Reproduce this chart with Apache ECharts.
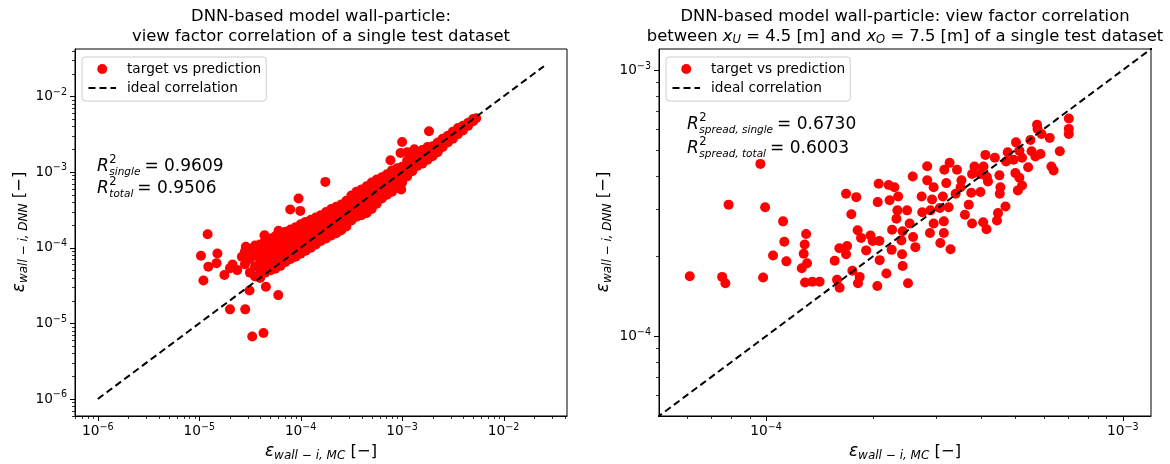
<!DOCTYPE html>
<html>
<head>
<meta charset="utf-8">
<script src="https://cdn.jsdelivr.net/npm/echarts@6/dist/echarts.min.js"></script>
<style>
  html, body { margin: 0; padding: 0; background: #ffffff; }
  #chart { width: 1170px; height: 464px; }
</style>
</head>
<body>
<div id="chart"></div>
<script>
// ---------------- data ----------------
// Single test dataset: dense band of (MC target, DNN prediction) pairs, grouped by MC value.
const singleBandColumns = [
  [2.82e-5, [6.03e-5, 8.91e-5]],
  [3.16e-5, [4.68e-5, 7.08e-5, 9.55e-5]],
  [3.55e-5, [4.17e-5, 5.62e-5, 7.94e-5, 1.07e-4]],
  [3.98e-5, [3.98e-5, 5.25e-5, 6.76e-5, 8.91e-5, 1.10e-4]],
  [4.47e-5, [4.68e-5, 6.03e-5, 7.59e-5, 1.00e-4, 1.26e-4]],
  [5.01e-5, [5.01e-5, 6.31e-5, 8.32e-5, 1.05e-4, 1.32e-4]],
  [5.62e-5, [5.25e-5, 6.76e-5, 8.71e-5, 1.12e-4, 1.41e-4]],
  [6.31e-5, [5.75e-5, 7.41e-5, 9.55e-5, 1.20e-4, 1.51e-4]],
  [7.08e-5, [6.46e-5, 8.13e-5, 1.05e-4, 1.32e-4, 1.62e-4]],
  [7.94e-5, [7.08e-5, 8.91e-5, 1.12e-4, 1.41e-4, 1.74e-4]],
  [8.91e-5, [7.59e-5, 9.55e-5, 1.20e-4, 1.51e-4, 1.86e-4]],
  [1.00e-4, [8.32e-5, 1.05e-4, 1.32e-4, 1.66e-4, 2.04e-4]],
  [1.12e-4, [9.12e-5, 1.15e-4, 1.45e-4, 1.82e-4, 2.19e-4]],
  [1.26e-4, [1.00e-4, 1.26e-4, 1.58e-4, 1.95e-4, 2.34e-4]],
  [1.41e-4, [1.10e-4, 1.38e-4, 1.74e-4, 2.14e-4, 2.51e-4]],
  [1.58e-4, [1.23e-4, 1.51e-4, 1.91e-4, 2.34e-4, 2.69e-4]],
  [1.78e-4, [1.32e-4, 1.66e-4, 2.09e-4, 2.57e-4, 2.95e-4]],
  [2.00e-4, [1.45e-4, 1.82e-4, 2.29e-4, 2.82e-4, 3.24e-4]],
  [2.24e-4, [1.55e-4, 1.95e-4, 2.45e-4, 3.02e-4, 3.47e-4]],
  [2.51e-4, [1.70e-4, 2.14e-4, 2.69e-4, 3.24e-4, 3.72e-4]],
  [2.82e-4, [1.91e-4, 2.40e-4, 3.02e-4, 3.63e-4, 4.17e-4]],
  [3.16e-4, [2.29e-4, 2.82e-4, 3.47e-4, 4.17e-4, 4.90e-4]],
  [3.55e-4, [2.57e-4, 3.16e-4, 3.89e-4, 4.68e-4, 5.50e-4]],
  [3.98e-4, [2.69e-4, 3.39e-4, 4.17e-4, 5.01e-4, 5.89e-4]],
  [4.47e-4, [2.88e-4, 3.63e-4, 4.57e-4, 5.50e-4, 6.46e-4]],
  [5.01e-4, [3.24e-4, 4.07e-4, 5.01e-4, 6.03e-4, 7.24e-4]],
  [5.62e-4, [3.80e-4, 4.57e-4, 5.62e-4, 6.76e-4, 7.94e-4]],
  [6.31e-4, [4.47e-4, 5.37e-4, 6.46e-4, 7.59e-4, 8.51e-4]],
  [7.08e-4, [5.01e-4, 6.03e-4, 7.24e-4, 8.51e-4, 9.33e-4]],
  [7.94e-4, [5.50e-4, 6.61e-4, 7.94e-4, 9.33e-4, 1.05e-3]],
  [8.91e-4, [6.17e-4, 7.41e-4, 8.91e-4, 1.02e-3, 1.12e-3]],
  [1.00e-3, [7.24e-4, 8.71e-4, 1.02e-3, 1.17e-3]],
  [1.12e-3, [8.71e-4, 1.02e-3, 1.23e-3, 1.41e-3, 1.82e-3]],
  [1.26e-3, [1.02e-3, 1.20e-3, 1.45e-3, 1.70e-3]],
  [1.32e-3, [2.00e-3]],
  [1.41e-3, [1.20e-3, 1.41e-3, 1.66e-3, 1.82e-3]],
  [1.58e-3, [1.29e-3, 1.51e-3, 1.78e-3, 1.95e-3]],
  [1.78e-3, [1.45e-3, 1.70e-3, 2.00e-3, 2.14e-3]],
  [2.00e-3, [1.62e-3, 1.91e-3, 2.19e-3]],
  [2.24e-3, [1.82e-3, 2.14e-3, 2.45e-3]],
  [2.51e-3, [2.14e-3, 2.45e-3, 2.75e-3]],
  [2.82e-3, [2.45e-3, 2.75e-3, 3.02e-3]],
  [3.16e-3, [2.75e-3, 3.09e-3, 3.39e-3]],
  [3.55e-3, [3.16e-3, 3.55e-3, 3.80e-3]],
  [3.98e-3, [3.55e-3, 4.07e-3]],
  [4.47e-3, [4.07e-3, 4.47e-3]],
  [5.01e-3, [4.68e-3, 5.01e-3]],
  [5.37e-3, [5.13e-3]]
];

// Single test dataset: scattered points away from the band.
const singleOutliers = [
  [1.04e-5, 7.80e-5], [1.21e-5, 1.50e-4], [1.51e-5, 8.38e-5], [1.23e-5, 5.61e-5],
  [1.48e-5, 6.24e-5], [1.10e-5, 3.69e-5], [1.77e-5, 4.34e-5], [2.13e-5, 5.97e-5],
  [2.01e-5, 5.36e-5], [2.37e-5, 5.05e-5], [2.63e-5, 7.57e-5], [2.88e-5, 1.03e-4],
  [2.01e-5, 1.53e-5], [2.84e-5, 1.53e-5], [3.13e-5, 2.72e-5], [4.54e-5, 3.05e-5],
  [6.01e-5, 2.36e-5], [3.33e-5, 6.68e-6], [4.30e-5, 7.43e-6], [4.40e-5, 1.46e-4],
  [6.05e-5, 1.67e-4], [7.89e-5, 3.19e-4], [9.53e-5, 4.47e-4], [9.91e-5, 3.06e-4],
  [1.75e-4, 7.40e-4], [7.67e-4, 1.43e-3], [1.00e-3, 2.49e-3], [1.84e-3, 3.45e-3],
  [9.64e-4, 1.78e-3], [9.79e-4, 5.86e-4]
];

// Spread region between x_U = 4.5 m and x_O = 7.5 m: (MC target, DNN prediction).
const spreadPoints = [
  [6.11e-5, 1.68e-4], [7.53e-5, 1.67e-4], [7.69e-5, 1.58e-4], [9.81e-5, 1.66e-4],
  [7.85e-5, 3.12e-4], [9.64e-5, 4.44e-4], [9.94e-5, 3.05e-4], [1.116e-4, 2.70e-4],
  [1.125e-4, 2.265e-4], [1.046e-4, 2.01e-4], [1.14e-4, 1.91e-4], [1.295e-4, 2.42e-4],
  [1.283e-4, 2.21e-4], [1.275e-4, 2.04e-4], [1.303e-4, 1.88e-4], [1.259e-4, 1.80e-4],
  [1.286e-4, 1.59e-4], [1.348e-4, 1.60e-4], [1.413e-4, 1.60e-4], [1.557e-4, 1.92e-4],
  [1.581e-4, 1.63e-4], [1.608e-4, 1.52e-4], [1.605e-4, 2.14e-4], [1.687e-4, 2.18e-4],
  [1.676e-4, 2.03e-4], [1.676e-4, 3.43e-4], [1.79e-4, 3.33e-4], [1.734e-4, 2.87e-4],
  [1.806e-4, 2.50e-4], [1.846e-4, 2.34e-4], [1.746e-4, 1.76e-4], [1.83e-4, 1.67e-4],
  [1.81e-4, 1.58e-4], [1.908e-4, 2.10e-4], [1.962e-4, 2.39e-4], [1.99e-4, 2.28e-4],
  [2.078e-4, 2.28e-4], [2.082e-4, 1.93e-4], [2.051e-4, 1.544e-4], [2.175e-4, 1.72e-4],
  [2.069e-4, 3.74e-4], [2.207e-4, 3.70e-4], [2.29e-4, 3.63e-4], [2.346e-4, 3.35e-4],
  [2.22e-4, 3.24e-4], [2.056e-4, 3.19e-4], [2.335e-4, 2.97e-4], [2.32e-4, 2.76e-4],
  [2.256e-4, 2.51e-4], [2.25e-4, 2.11e-4], [2.415e-4, 2.48e-4], [2.395e-4, 2.29e-4],
  [2.406e-4, 2.03e-4], [2.415e-4, 1.835e-4], [2.50e-4, 1.58e-4], [2.485e-4, 2.97e-4],
  [2.527e-4, 2.65e-4], [2.583e-4, 2.36e-4], [2.622e-4, 2.16e-4], [2.577e-4, 3.98e-4],
  [7.06e-4, 6.58e-4], [7.06e-4, 6.01e-4], [7.06e-4, 5.75e-4], [5.75e-4, 6.23e-4],
  [5.77e-4, 6.01e-4], [5.92e-4, 5.75e-4], [6.24e-4, 5.56e-4], [6.66e-4, 4.95e-4],
  [5.51e-4, 5.46e-4], [5.02e-4, 5.35e-4], [5.55e-4, 4.95e-4], [5.69e-4, 4.73e-4],
  [5.88e-4, 4.84e-4], [5.13e-4, 4.98e-4], [4.76e-4, 4.91e-4], [5.22e-4, 4.68e-4],
  [4.94e-4, 4.60e-4], [5.43e-4, 4.31e-4], [6.31e-4, 4.34e-4], [6.40e-4, 4.19e-4],
  [4.12e-4, 4.80e-4], [4.38e-4, 4.68e-4], [4.71e-4, 4.53e-4], [3.84e-4, 4.34e-4],
  [4.07e-4, 4.34e-4], [3.99e-4, 4.07e-4], [3.27e-4, 4.48e-4], [3.43e-4, 4.22e-4],
  [3.16e-4, 4.22e-4], [2.83e-4, 4.35e-4], [3.78e-4, 4.07e-4], [4.16e-4, 3.96e-4],
  [4.51e-4, 4.02e-4], [5.00e-4, 4.10e-4], [5.13e-4, 3.94e-4], [5.22e-4, 3.68e-4],
  [5.08e-4, 3.53e-4], [4.54e-4, 3.63e-4], [4.52e-4, 3.43e-4], [4.19e-4, 3.81e-4],
  [3.99e-4, 3.48e-4], [3.76e-4, 3.46e-4], [3.51e-4, 3.63e-4], [3.53e-4, 3.85e-4],
  [3.20e-4, 3.76e-4], [2.95e-4, 3.63e-4], [2.83e-4, 3.85e-4], [3.40e-4, 3.43e-4],
  [3.13e-4, 3.35e-4], [2.92e-4, 3.26e-4], [2.73e-4, 3.35e-4], [3.25e-4, 3.05e-4],
  [3.07e-4, 3.03e-4], [2.89e-4, 2.97e-4], [2.74e-4, 2.92e-4], [3.70e-4, 3.12e-4],
  [3.61e-4, 2.86e-4], [3.78e-4, 2.65e-4], [4.06e-4, 2.68e-4], [4.15e-4, 2.52e-4],
  [4.47e-4, 2.90e-4], [4.69e-4, 3.07e-4], [4.44e-4, 2.72e-4], [3.15e-4, 2.70e-4],
  [2.95e-4, 2.65e-4], [3.15e-4, 2.44e-4], [2.88e-4, 2.44e-4], [3.08e-4, 2.24e-4],
  [3.29e-4, 2.12e-4]
];

// Ideal correlation y = x, given by its end points.
const singleIdealEnds = [1e-6, 2.5e-2];
const spreadIdealEnds = [1e-5, 1e-2];

// Axis ranges (same for both axes of each panel).
const singleRange = [5.96e-7, 4.22e-2];
const spreadRange = [5.01e-5, 1.20e-3];

// Tick values.
const singleMajorTicks = [1e-6, 1e-5, 1e-4, 1e-3, 1e-2];
const spreadMajorTicks = [1e-4, 1e-3];
const minorMultipliers = [2, 3, 4, 5, 6, 7, 8, 9];
const minorDecades = [1e-7, 1e-6, 1e-5, 1e-4, 1e-3, 1e-2];

// Coefficients of determination shown in each panel.
const singleR2 = { single: '0.9609', total: '0.9506' };
const spreadR2 = { single: '0.6730', total: '0.6003' };

// Axis titles.
const xTitle = '{e|\u03b5}{s|wall \u2212 i, MC}{n| [\u2212]}';
const yTitle = '{e|\u03b5}{s|wall \u2212 i, DNN}{n| [\u2212]}';

// ---------------- helpers ----------------
const FONT = '"DejaVu Sans", sans-serif';

const singleData = singleOutliers.slice();
singleBandColumns.forEach(([mc, preds]) => preds.forEach(p => singleData.push([mc, p])));

function minorTicksIn(range) {
  const out = [];
  minorDecades.forEach(d => minorMultipliers.forEach(m => {
    const v = m * d;
    if (v >= range[0] && v <= range[1]) out.push(v);
  }));
  return out;
}

function powerLabel(value) {
  const e = Math.round(Math.log10(value));
  return '{b|10}{s|' + (e < 0 ? '\u2212' + (-e) : String(e)) + '}';
}

const tickRich = {
  b: { fontFamily: FONT, fontSize: 13.7, lineHeight: 18, color: '#000' },
  s: { fontFamily: FONT, fontSize: 9.6, lineHeight: 10, verticalAlign: 'top', color: '#000' }
};

const nameRich = {
  e: { fontFamily: FONT, fontStyle: 'italic', fontSize: 17, lineHeight: 20, fill: '#000', color: '#000' },
  s: { fontFamily: FONT, fontStyle: 'italic', fontSize: 12, lineHeight: 10, verticalAlign: 'bottom', fill: '#000', color: '#000' },
  n: { fontFamily: FONT, fontSize: 16.4, lineHeight: 20, fill: '#000', color: '#000' }
};

// Log axis with 10^n labels at the decades; tick marks are added after layout.
function logAxis(gridIndex, range, majors, isX) {
  return {
    type: 'log', gridIndex, min: range[0], max: range[1],
    axisLine: { show: true, lineStyle: { color: '#000', width: 1 } },
    axisTick: { show: false },
    splitLine: { show: false },
    axisLabel: { customValues: majors, margin: isX ? 6 : 8, formatter: powerLabel, rich: tickRich, color: '#000' }
  };
}

// Text width measurement for laying out stacked super/subscripts.
const measureCtx = document.createElement('canvas').getContext('2d');
function widthOf(str, size, italic) {
  measureCtx.font = (italic ? 'italic ' : '') + size + 'px "DejaVu Sans"';
  return measureCtx.measureText(str).width;
}

function textEl(str, x, baseline, size, italic) {
  return {
    type: 'text', x, y: baseline - 0.346 * size, z: 50,
    style: {
      text: str, fill: '#000',
      font: (italic ? 'italic ' : '') + size + 'px "DejaVu Sans"',
      align: 'left', verticalAlign: 'middle'
    }
  };
}

// R^2 with stacked superscript 2 and subscript label, followed by its value.
function r2Label(x, baseline, sub, value) {
  const fs = 17, fsScript = 10.5;
  const sx = x + widthOf('R', fs, true) + 0.5;
  const colW = Math.max(widthOf(sub, fsScript, true), widthOf('2', fsScript, false));
  const tx = sx + colW + 4;
  return [
    textEl('R', x, baseline, fs, true),
    textEl('2', sx, baseline - 8, 11.5, false),
    textEl(sub, sx, baseline + 4, fsScript, true),
    textEl('= ' + value, tx, baseline, fs, false)
  ];
}

// Axis title as a (optionally rotated) rich text centred on a point.
function axisTitle(text, cx, cy, vertical) {
  return {
    type: 'text', x: cx, y: cy, rotation: vertical ? Math.PI / 2 : 0, z: 50,
    style: { text, rich: nameRich, fill: '#000', fontFamily: FONT, align: 'center', verticalAlign: 'middle' }
  };
}

const legendBase = {
  top: 57, orient: 'vertical', itemWidth: 27.5, itemHeight: 10, itemGap: 3,
  padding: [4, 5, 5, 5.5],
  backgroundColor: 'rgba(255,255,255,0.8)', borderColor: '#cccccc', borderWidth: 1, borderRadius: 3,
  selectedMode: false,
  textStyle: { fontFamily: FONT, fontSize: 13.7, color: '#000', lineHeight: 16, padding: [0, 0, 0, 6] },
  data: [
    { name: 'target vs prediction', icon: 'circle' },
    { name: 'ideal correlation', itemStyle: { opacity: 0 } }
  ]
};

const titleStyle = { fontFamily: FONT, fontSize: 16.4, fontWeight: 'normal', color: '#000', lineHeight: 19.5 };

const baseGraphics = [
  axisTitle(xTitle, 321, 452, false),
  axisTitle(yTitle, 20, 232, true),
  axisTitle(xTitle, 905, 452, false),
  axisTitle(yTitle, 604, 232, true),
  ...r2Label(97, 172, 'single', singleR2.single),
  ...r2Label(97, 194, 'total', singleR2.total),
  ...r2Label(687, 130, 'spread, single', spreadR2.single),
  ...r2Label(687, 154, 'spread, total', spreadR2.total)
];

const option = {
  animation: false,
  backgroundColor: '#ffffff',
  title: [
    {
      left: 321, top: 7, padding: 0, textAlign: 'center',
      text: 'DNN-based model wall-particle:\nview factor correlation of a single test dataset',
      textStyle: titleStyle
    },
    {
      left: 905, top: 7, padding: 0, textAlign: 'center',
      text: 'DNN-based model wall-particle: view factor correlation\n' +
        '{n|between }{i|x}{u|U}{n| = 4.5 [m] and }{i|x}{u|O}{n| = 7.5 [m] of a single test dataset}',
      textStyle: Object.assign({}, titleStyle, {
        rich: {
          n: { fontFamily: FONT, fontSize: 16.4, lineHeight: 19.5, color: '#000' },
          i: { fontFamily: FONT, fontStyle: 'italic', fontSize: 16.4, lineHeight: 19.5, color: '#000' },
          u: { fontFamily: FONT, fontStyle: 'italic', fontSize: 11.5, lineHeight: 9, verticalAlign: 'bottom', color: '#000' }
        }
      })
    }
  ],
  legend: [
    Object.assign({}, legendBase, { left: 82 }),
    Object.assign({}, legendBase, { left: 666 })
  ],
  grid: [
    { left: 75, top: 49, width: 492, height: 367, show: true, borderColor: '#000', borderWidth: 1, outerBoundsMode: 'none' },
    { left: 659, top: 49, width: 492, height: 367, show: true, borderColor: '#000', borderWidth: 1, outerBoundsMode: 'none' }
  ],
  xAxis: [
    logAxis(0, singleRange, singleMajorTicks, true),
    logAxis(1, spreadRange, spreadMajorTicks, true)
  ],
  yAxis: [
    logAxis(0, singleRange, singleMajorTicks, false),
    logAxis(1, spreadRange, spreadMajorTicks, false)
  ],
  series: [
    {
      name: 'target vs prediction', type: 'scatter', xAxisIndex: 0, yAxisIndex: 0,
      data: singleData, symbol: 'circle', symbolSize: 10,
      itemStyle: { color: '#ff0000', opacity: 1 }
    },
    {
      name: 'ideal correlation', type: 'line', xAxisIndex: 0, yAxisIndex: 0,
      data: [[singleIdealEnds[0], singleIdealEnds[0]], [singleIdealEnds[1], singleIdealEnds[1]]],
      symbol: 'none', lineStyle: { color: '#000', width: 2, type: [7, 4] },
      itemStyle: { color: '#000' }, clip: true
    },
    {
      name: 'target vs prediction', type: 'scatter', xAxisIndex: 1, yAxisIndex: 1,
      data: spreadPoints, symbol: 'circle', symbolSize: 10,
      itemStyle: { color: '#ff0000', opacity: 1 }
    },
    {
      name: 'ideal correlation', type: 'line', xAxisIndex: 1, yAxisIndex: 1,
      data: [[spreadIdealEnds[0], spreadIdealEnds[0]], [spreadIdealEnds[1], spreadIdealEnds[1]]],
      symbol: 'none', lineStyle: { color: '#000', width: 2, type: [7, 4] },
      itemStyle: { color: '#000' }, clip: true
    }
  ],
  graphic: { elements: baseGraphics }
};

const chart = echarts.init(document.getElementById('chart'), null, { renderer: 'canvas' });
chart.setOption(option);

// Outward tick marks, placed through each axis' own log scale.
function tickLine(x1, y1, x2, y2, width) {
  return { type: 'line', z: 40, silent: true,
    shape: { x1, y1, x2, y2 }, style: { stroke: '#000', lineWidth: width } };
}
function axisTicks(axisIndex, range, majors) {
  const out = [];
  const left = chart.convertToPixel({ xAxisIndex: axisIndex }, range[0]);
  const bottom = chart.convertToPixel({ yAxisIndex: axisIndex }, range[0]);
  const groups = [[majors, 5, 1], [minorTicksIn(range), 3, 0.8]];
  groups.forEach(([values, len, w]) => values.forEach(v => {
    const px = Math.round(chart.convertToPixel({ xAxisIndex: axisIndex }, v)) + 0.5;
    const py = Math.round(chart.convertToPixel({ yAxisIndex: axisIndex }, v)) + 0.5;
    out.push(tickLine(px, bottom, px, bottom + len, w));
    out.push(tickLine(left - len, py, left, py, w));
  }));
  return out;
}
chart.setOption({
  graphic: {
    elements: baseGraphics.concat(
      axisTicks(0, singleRange, singleMajorTicks),
      axisTicks(1, spreadRange, spreadMajorTicks)
    )
  }
});
</script>
</body>
</html>
